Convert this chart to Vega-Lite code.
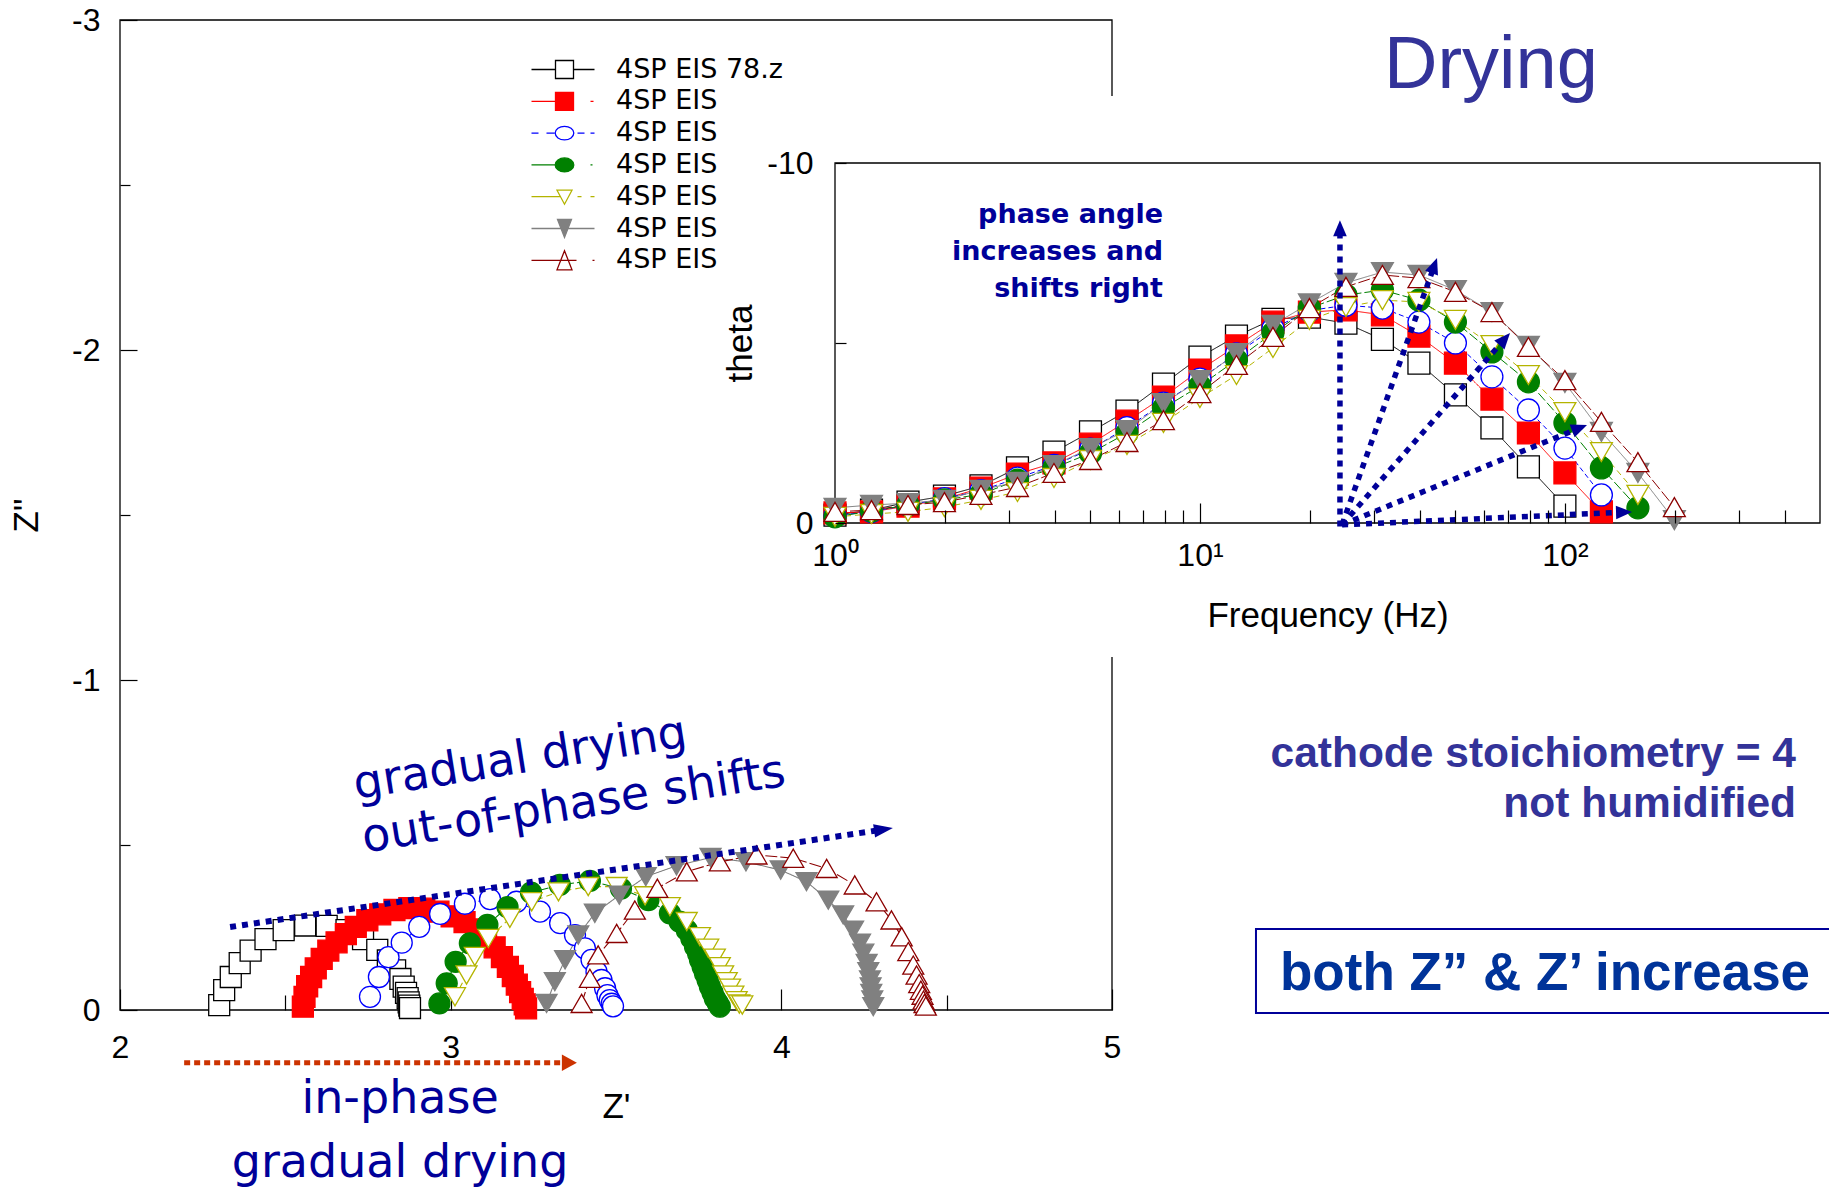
{
  "$schema": "https://vega.github.io/schema/vega-lite/v6.json",
  "width": 992,
  "height": 990,
  "autosize": {"type": "none"},
  "padding": {"left": 120, "top": 20, "right": 717, "bottom": 181},
  "background": "#ffffff",
  "config": {
    "view": {"stroke": null},
    "axis": {"grid": false, "domain": false, "labelFont": "Liberation Sans", "titleFont": "Liberation Sans", "labelColor": "#000000", "titleColor": "#000000", "tickColor": "#000000", "tickWidth": 1.2, "titleFontWeight": "normal", "labelOverlap": false, "labelFlush": false},
    "legend": {"disable": true},
    "text": {"font": "Liberation Sans"}
  },
  "datasets": {
    "nyquist": [
      {"run": "4SP EIS 78.z", "zre": 2.300, "zim": -0.015}, {"run": "4SP EIS 78.z", "zre": 2.315, "zim": -0.060}, {"run": "4SP EIS 78.z", "zre": 2.335, "zim": -0.100}, {"run": "4SP EIS 78.z", "zre": 2.362, "zim": -0.142}, {"run": "4SP EIS 78.z", "zre": 2.395, "zim": -0.180}, {"run": "4SP EIS 78.z", "zre": 2.440, "zim": -0.215}, {"run": "4SP EIS 78.z", "zre": 2.495, "zim": -0.242}, {"run": "4SP EIS 78.z", "zre": 2.560, "zim": -0.256}, {"run": "4SP EIS 78.z", "zre": 2.625, "zim": -0.255}, {"run": "4SP EIS 78.z", "zre": 2.685, "zim": -0.242}, {"run": "4SP EIS 78.z", "zre": 2.735, "zim": -0.215}, {"run": "4SP EIS 78.z", "zre": 2.778, "zim": -0.182}, {"run": "4SP EIS 78.z", "zre": 2.810, "zim": -0.150}, {"run": "4SP EIS 78.z", "zre": 2.832, "zim": -0.120}, {"run": "4SP EIS 78.z", "zre": 2.848, "zim": -0.094}, {"run": "4SP EIS 78.z", "zre": 2.858, "zim": -0.071}, {"run": "4SP EIS 78.z", "zre": 2.865, "zim": -0.052}, {"run": "4SP EIS 78.z", "zre": 2.870, "zim": -0.036}, {"run": "4SP EIS 78.z", "zre": 2.873, "zim": -0.023}, {"run": "4SP EIS 78.z", "zre": 2.875, "zim": -0.013}, {"run": "4SP EIS 78.z", "zre": 2.877, "zim": -0.006},
      {"run": "4SP EIS 79.z", "zre": 2.553, "zim": -0.010}, {"run": "4SP EIS 79.z", "zre": 2.558, "zim": -0.040}, {"run": "4SP EIS 79.z", "zre": 2.566, "zim": -0.072}, {"run": "4SP EIS 79.z", "zre": 2.578, "zim": -0.100}, {"run": "4SP EIS 79.z", "zre": 2.592, "zim": -0.126}, {"run": "4SP EIS 79.z", "zre": 2.610, "zim": -0.155}, {"run": "4SP EIS 79.z", "zre": 2.630, "zim": -0.180}, {"run": "4SP EIS 79.z", "zre": 2.655, "zim": -0.205}, {"run": "4SP EIS 79.z", "zre": 2.683, "zim": -0.230}, {"run": "4SP EIS 79.z", "zre": 2.713, "zim": -0.252}, {"run": "4SP EIS 79.z", "zre": 2.748, "zim": -0.272}, {"run": "4SP EIS 79.z", "zre": 2.787, "zim": -0.290}, {"run": "4SP EIS 79.z", "zre": 2.830, "zim": -0.303}, {"run": "4SP EIS 79.z", "zre": 2.875, "zim": -0.309}, {"run": "4SP EIS 79.z", "zre": 2.920, "zim": -0.307}, {"run": "4SP EIS 79.z", "zre": 2.963, "zim": -0.298}, {"run": "4SP EIS 79.z", "zre": 3.003, "zim": -0.284}, {"run": "4SP EIS 79.z", "zre": 3.042, "zim": -0.266}, {"run": "4SP EIS 79.z", "zre": 3.077, "zim": -0.244}, {"run": "4SP EIS 79.z", "zre": 3.107, "zim": -0.218}, {"run": "4SP EIS 79.z", "zre": 3.133, "zim": -0.190}, {"run": "4SP EIS 79.z", "zre": 3.155, "zim": -0.160}, {"run": "4SP EIS 79.z", "zre": 3.173, "zim": -0.131}, {"run": "4SP EIS 79.z", "zre": 3.188, "zim": -0.103}, {"run": "4SP EIS 79.z", "zre": 3.200, "zim": -0.077}, {"run": "4SP EIS 79.z", "zre": 3.210, "zim": -0.054}, {"run": "4SP EIS 79.z", "zre": 3.218, "zim": -0.034}, {"run": "4SP EIS 79.z", "zre": 3.224, "zim": -0.017}, {"run": "4SP EIS 79.z", "zre": 3.228, "zim": -0.005},
      {"run": "4SP EIS 80.z", "zre": 2.756, "zim": -0.040}, {"run": "4SP EIS 80.z", "zre": 2.783, "zim": -0.100}, {"run": "4SP EIS 80.z", "zre": 2.812, "zim": -0.160}, {"run": "4SP EIS 80.z", "zre": 2.852, "zim": -0.204}, {"run": "4SP EIS 80.z", "zre": 2.905, "zim": -0.252}, {"run": "4SP EIS 80.z", "zre": 2.968, "zim": -0.291}, {"run": "4SP EIS 80.z", "zre": 3.043, "zim": -0.322}, {"run": "4SP EIS 80.z", "zre": 3.119, "zim": -0.336}, {"run": "4SP EIS 80.z", "zre": 3.199, "zim": -0.328}, {"run": "4SP EIS 80.z", "zre": 3.270, "zim": -0.298}, {"run": "4SP EIS 80.z", "zre": 3.331, "zim": -0.263}, {"run": "4SP EIS 80.z", "zre": 3.376, "zim": -0.227}, {"run": "4SP EIS 80.z", "zre": 3.406, "zim": -0.187}, {"run": "4SP EIS 80.z", "zre": 3.426, "zim": -0.152}, {"run": "4SP EIS 80.z", "zre": 3.441, "zim": -0.116}, {"run": "4SP EIS 80.z", "zre": 3.456, "zim": -0.091}, {"run": "4SP EIS 80.z", "zre": 3.467, "zim": -0.066}, {"run": "4SP EIS 80.z", "zre": 3.474, "zim": -0.045}, {"run": "4SP EIS 80.z", "zre": 3.481, "zim": -0.030}, {"run": "4SP EIS 80.z", "zre": 3.487, "zim": -0.019}, {"run": "4SP EIS 80.z", "zre": 3.491, "zim": -0.011},
      {"run": "4SP EIS 81.z", "zre": 2.966, "zim": -0.020}, {"run": "4SP EIS 81.z", "zre": 2.988, "zim": -0.081}, {"run": "4SP EIS 81.z", "zre": 3.015, "zim": -0.146}, {"run": "4SP EIS 81.z", "zre": 3.058, "zim": -0.202}, {"run": "4SP EIS 81.z", "zre": 3.111, "zim": -0.258}, {"run": "4SP EIS 81.z", "zre": 3.172, "zim": -0.312}, {"run": "4SP EIS 81.z", "zre": 3.243, "zim": -0.356}, {"run": "4SP EIS 81.z", "zre": 3.330, "zim": -0.379}, {"run": "4SP EIS 81.z", "zre": 3.421, "zim": -0.391}, {"run": "4SP EIS 81.z", "zre": 3.515, "zim": -0.368}, {"run": "4SP EIS 81.z", "zre": 3.598, "zim": -0.333}, {"run": "4SP EIS 81.z", "zre": 3.663, "zim": -0.293}, {"run": "4SP EIS 81.z", "zre": 3.692, "zim": -0.268}, {"run": "4SP EIS 81.z", "zre": 3.714, "zim": -0.242}, {"run": "4SP EIS 81.z", "zre": 3.728, "zim": -0.217}, {"run": "4SP EIS 81.z", "zre": 3.739, "zim": -0.192}, {"run": "4SP EIS 81.z", "zre": 3.748, "zim": -0.172}, {"run": "4SP EIS 81.z", "zre": 3.754, "zim": -0.152}, {"run": "4SP EIS 81.z", "zre": 3.762, "zim": -0.131}, {"run": "4SP EIS 81.z", "zre": 3.769, "zim": -0.111}, {"run": "4SP EIS 81.z", "zre": 3.777, "zim": -0.091}, {"run": "4SP EIS 81.z", "zre": 3.784, "zim": -0.071}, {"run": "4SP EIS 81.z", "zre": 3.792, "zim": -0.053}, {"run": "4SP EIS 81.z", "zre": 3.799, "zim": -0.035}, {"run": "4SP EIS 81.z", "zre": 3.807, "zim": -0.022}, {"run": "4SP EIS 81.z", "zre": 3.814, "zim": -0.010},
      {"run": "4SP EIS 82.z", "zre": 3.013, "zim": -0.040}, {"run": "4SP EIS 82.z", "zre": 3.048, "zim": -0.106}, {"run": "4SP EIS 82.z", "zre": 3.073, "zim": -0.162}, {"run": "4SP EIS 82.z", "zre": 3.114, "zim": -0.217}, {"run": "4SP EIS 82.z", "zre": 3.179, "zim": -0.278}, {"run": "4SP EIS 82.z", "zre": 3.245, "zim": -0.328}, {"run": "4SP EIS 82.z", "zre": 3.326, "zim": -0.358}, {"run": "4SP EIS 82.z", "zre": 3.416, "zim": -0.374}, {"run": "4SP EIS 82.z", "zre": 3.502, "zim": -0.374}, {"run": "4SP EIS 82.z", "zre": 3.588, "zim": -0.346}, {"run": "4SP EIS 82.z", "zre": 3.663, "zim": -0.313}, {"run": "4SP EIS 82.z", "zre": 3.714, "zim": -0.268}, {"run": "4SP EIS 82.z", "zre": 3.754, "zim": -0.222}, {"run": "4SP EIS 82.z", "zre": 3.779, "zim": -0.187}, {"run": "4SP EIS 82.z", "zre": 3.799, "zim": -0.157}, {"run": "4SP EIS 82.z", "zre": 3.814, "zim": -0.131}, {"run": "4SP EIS 82.z", "zre": 3.824, "zim": -0.106}, {"run": "4SP EIS 82.z", "zre": 3.835, "zim": -0.086}, {"run": "4SP EIS 82.z", "zre": 3.845, "zim": -0.066}, {"run": "4SP EIS 82.z", "zre": 3.855, "zim": -0.045}, {"run": "4SP EIS 82.z", "zre": 3.865, "zim": -0.028}, {"run": "4SP EIS 82.z", "zre": 3.873, "zim": -0.018}, {"run": "4SP EIS 82.z", "zre": 3.882, "zim": -0.015},
      {"run": "4SP EIS 83.z", "zre": 3.290, "zim": -0.020}, {"run": "4SP EIS 83.z", "zre": 3.315, "zim": -0.086}, {"run": "4SP EIS 83.z", "zre": 3.346, "zim": -0.152}, {"run": "4SP EIS 83.z", "zre": 3.386, "zim": -0.227}, {"run": "4SP EIS 83.z", "zre": 3.436, "zim": -0.293}, {"run": "4SP EIS 83.z", "zre": 3.510, "zim": -0.348}, {"run": "4SP EIS 83.z", "zre": 3.590, "zim": -0.404}, {"run": "4SP EIS 83.z", "zre": 3.683, "zim": -0.437}, {"run": "4SP EIS 83.z", "zre": 3.786, "zim": -0.462}, {"run": "4SP EIS 83.z", "zre": 3.893, "zim": -0.449}, {"run": "4SP EIS 83.z", "zre": 3.998, "zim": -0.424}, {"run": "4SP EIS 83.z", "zre": 4.076, "zim": -0.389}, {"run": "4SP EIS 83.z", "zre": 4.142, "zim": -0.333}, {"run": "4SP EIS 83.z", "zre": 4.187, "zim": -0.288}, {"run": "4SP EIS 83.z", "zre": 4.217, "zim": -0.242}, {"run": "4SP EIS 83.z", "zre": 4.238, "zim": -0.202}, {"run": "4SP EIS 83.z", "zre": 4.248, "zim": -0.172}, {"run": "4SP EIS 83.z", "zre": 4.258, "zim": -0.141}, {"run": "4SP EIS 83.z", "zre": 4.263, "zim": -0.116}, {"run": "4SP EIS 83.z", "zre": 4.268, "zim": -0.091}, {"run": "4SP EIS 83.z", "zre": 4.270, "zim": -0.070}, {"run": "4SP EIS 83.z", "zre": 4.272, "zim": -0.050}, {"run": "4SP EIS 83.z", "zre": 4.275, "zim": -0.030}, {"run": "4SP EIS 83.z", "zre": 4.278, "zim": -0.010},
      {"run": "4SP EIS 84.z", "zre": 3.396, "zim": -0.020}, {"run": "4SP EIS 84.z", "zre": 3.421, "zim": -0.096}, {"run": "4SP EIS 84.z", "zre": 3.446, "zim": -0.167}, {"run": "4SP EIS 84.z", "zre": 3.502, "zim": -0.232}, {"run": "4SP EIS 84.z", "zre": 3.557, "zim": -0.303}, {"run": "4SP EIS 84.z", "zre": 3.625, "zim": -0.369}, {"run": "4SP EIS 84.z", "zre": 3.714, "zim": -0.419}, {"run": "4SP EIS 84.z", "zre": 3.814, "zim": -0.449}, {"run": "4SP EIS 84.z", "zre": 3.925, "zim": -0.470}, {"run": "4SP EIS 84.z", "zre": 4.036, "zim": -0.460}, {"run": "4SP EIS 84.z", "zre": 4.137, "zim": -0.429}, {"run": "4SP EIS 84.z", "zre": 4.222, "zim": -0.379}, {"run": "4SP EIS 84.z", "zre": 4.288, "zim": -0.328}, {"run": "4SP EIS 84.z", "zre": 4.333, "zim": -0.273}, {"run": "4SP EIS 84.z", "zre": 4.364, "zim": -0.222}, {"run": "4SP EIS 84.z", "zre": 4.384, "zim": -0.177}, {"run": "4SP EIS 84.z", "zre": 4.399, "zim": -0.136}, {"run": "4SP EIS 84.z", "zre": 4.409, "zim": -0.106}, {"run": "4SP EIS 84.z", "zre": 4.417, "zim": -0.080}, {"run": "4SP EIS 84.z", "zre": 4.422, "zim": -0.060}, {"run": "4SP EIS 84.z", "zre": 4.427, "zim": -0.045}, {"run": "4SP EIS 84.z", "zre": 4.430, "zim": -0.030}, {"run": "4SP EIS 84.z", "zre": 4.433, "zim": -0.020}, {"run": "4SP EIS 84.z", "zre": 4.437, "zim": -0.012}
    ],
    "bode": [
      {"run": "4SP EIS 78.z", "hz": 1, "theta": -0.22}, {"run": "4SP EIS 78.z", "hz": 1.259, "theta": -0.36}, {"run": "4SP EIS 78.z", "hz": 1.585, "theta": -0.58}, {"run": "4SP EIS 78.z", "hz": 1.995, "theta": -0.75}, {"run": "4SP EIS 78.z", "hz": 2.512, "theta": -1.03}, {"run": "4SP EIS 78.z", "hz": 3.162, "theta": -1.53}, {"run": "4SP EIS 78.z", "hz": 3.981, "theta": -1.97}, {"run": "4SP EIS 78.z", "hz": 5.012, "theta": -2.53}, {"run": "4SP EIS 78.z", "hz": 6.31, "theta": -3.11}, {"run": "4SP EIS 78.z", "hz": 7.943, "theta": -3.86}, {"run": "4SP EIS 78.z", "hz": 10, "theta": -4.61}, {"run": "4SP EIS 78.z", "hz": 12.59, "theta": -5.19}, {"run": "4SP EIS 78.z", "hz": 15.85, "theta": -5.66}, {"run": "4SP EIS 78.z", "hz": 19.95, "theta": -5.72}, {"run": "4SP EIS 78.z", "hz": 25.12, "theta": -5.55}, {"run": "4SP EIS 78.z", "hz": 31.62, "theta": -5.10}, {"run": "4SP EIS 78.z", "hz": 39.81, "theta": -4.44}, {"run": "4SP EIS 78.z", "hz": 50.12, "theta": -3.56}, {"run": "4SP EIS 78.z", "hz": 63.1, "theta": -2.64}, {"run": "4SP EIS 78.z", "hz": 79.43, "theta": -1.56}, {"run": "4SP EIS 78.z", "hz": 100, "theta": -0.47},
      {"run": "4SP EIS 79.z", "hz": 1, "theta": -0.28}, {"run": "4SP EIS 79.z", "hz": 1.259, "theta": -0.31}, {"run": "4SP EIS 79.z", "hz": 1.585, "theta": -0.47}, {"run": "4SP EIS 79.z", "hz": 1.995, "theta": -0.67}, {"run": "4SP EIS 79.z", "hz": 2.512, "theta": -0.97}, {"run": "4SP EIS 79.z", "hz": 3.162, "theta": -1.36}, {"run": "4SP EIS 79.z", "hz": 3.981, "theta": -1.67}, {"run": "4SP EIS 79.z", "hz": 5.012, "theta": -2.19}, {"run": "4SP EIS 79.z", "hz": 6.31, "theta": -2.83}, {"run": "4SP EIS 79.z", "hz": 7.943, "theta": -3.50}, {"run": "4SP EIS 79.z", "hz": 10, "theta": -4.25}, {"run": "4SP EIS 79.z", "hz": 12.59, "theta": -4.92}, {"run": "4SP EIS 79.z", "hz": 15.85, "theta": -5.58}, {"run": "4SP EIS 79.z", "hz": 19.95, "theta": -5.86}, {"run": "4SP EIS 79.z", "hz": 25.12, "theta": -5.92}, {"run": "4SP EIS 79.z", "hz": 31.62, "theta": -5.78}, {"run": "4SP EIS 79.z", "hz": 39.81, "theta": -5.19}, {"run": "4SP EIS 79.z", "hz": 50.12, "theta": -4.44}, {"run": "4SP EIS 79.z", "hz": 63.1, "theta": -3.44}, {"run": "4SP EIS 79.z", "hz": 79.43, "theta": -2.50}, {"run": "4SP EIS 79.z", "hz": 100, "theta": -1.39}, {"run": "4SP EIS 79.z", "hz": 125.9, "theta": -0.31},
      {"run": "4SP EIS 80.z", "hz": 1, "theta": -0.20}, {"run": "4SP EIS 80.z", "hz": 1.259, "theta": -0.32}, {"run": "4SP EIS 80.z", "hz": 1.585, "theta": -0.50}, {"run": "4SP EIS 80.z", "hz": 1.995, "theta": -0.68}, {"run": "4SP EIS 80.z", "hz": 2.512, "theta": -0.90}, {"run": "4SP EIS 80.z", "hz": 3.162, "theta": -1.25}, {"run": "4SP EIS 80.z", "hz": 3.981, "theta": -1.60}, {"run": "4SP EIS 80.z", "hz": 5.012, "theta": -2.05}, {"run": "4SP EIS 80.z", "hz": 6.31, "theta": -2.65}, {"run": "4SP EIS 80.z", "hz": 7.943, "theta": -3.33}, {"run": "4SP EIS 80.z", "hz": 10, "theta": -4.00}, {"run": "4SP EIS 80.z", "hz": 12.59, "theta": -4.70}, {"run": "4SP EIS 80.z", "hz": 15.85, "theta": -5.40}, {"run": "4SP EIS 80.z", "hz": 19.95, "theta": -5.90}, {"run": "4SP EIS 80.z", "hz": 25.12, "theta": -6.05}, {"run": "4SP EIS 80.z", "hz": 31.62, "theta": -5.97}, {"run": "4SP EIS 80.z", "hz": 39.81, "theta": -5.58}, {"run": "4SP EIS 80.z", "hz": 50.12, "theta": -5.00}, {"run": "4SP EIS 80.z", "hz": 63.1, "theta": -4.06}, {"run": "4SP EIS 80.z", "hz": 79.43, "theta": -3.14}, {"run": "4SP EIS 80.z", "hz": 100, "theta": -2.08}, {"run": "4SP EIS 80.z", "hz": 125.9, "theta": -0.78},
      {"run": "4SP EIS 81.z", "hz": 1, "theta": -0.17}, {"run": "4SP EIS 81.z", "hz": 1.259, "theta": -0.33}, {"run": "4SP EIS 81.z", "hz": 1.585, "theta": -0.50}, {"run": "4SP EIS 81.z", "hz": 1.995, "theta": -0.64}, {"run": "4SP EIS 81.z", "hz": 2.512, "theta": -0.80}, {"run": "4SP EIS 81.z", "hz": 3.162, "theta": -1.19}, {"run": "4SP EIS 81.z", "hz": 3.981, "theta": -1.53}, {"run": "4SP EIS 81.z", "hz": 5.012, "theta": -1.94}, {"run": "4SP EIS 81.z", "hz": 6.31, "theta": -2.50}, {"run": "4SP EIS 81.z", "hz": 7.943, "theta": -3.19}, {"run": "4SP EIS 81.z", "hz": 10, "theta": -3.81}, {"run": "4SP EIS 81.z", "hz": 12.59, "theta": -4.53}, {"run": "4SP EIS 81.z", "hz": 15.85, "theta": -5.28}, {"run": "4SP EIS 81.z", "hz": 19.95, "theta": -5.97}, {"run": "4SP EIS 81.z", "hz": 25.12, "theta": -6.33}, {"run": "4SP EIS 81.z", "hz": 31.62, "theta": -6.47}, {"run": "4SP EIS 81.z", "hz": 39.81, "theta": -6.19}, {"run": "4SP EIS 81.z", "hz": 50.12, "theta": -5.58}, {"run": "4SP EIS 81.z", "hz": 63.1, "theta": -4.75}, {"run": "4SP EIS 81.z", "hz": 79.43, "theta": -3.92}, {"run": "4SP EIS 81.z", "hz": 100, "theta": -2.78}, {"run": "4SP EIS 81.z", "hz": 125.9, "theta": -1.53}, {"run": "4SP EIS 81.z", "hz": 158.5, "theta": -0.42},
      {"run": "4SP EIS 82.z", "hz": 1, "theta": -0.17}, {"run": "4SP EIS 82.z", "hz": 1.259, "theta": -0.25}, {"run": "4SP EIS 82.z", "hz": 1.585, "theta": -0.31}, {"run": "4SP EIS 82.z", "hz": 1.995, "theta": -0.44}, {"run": "4SP EIS 82.z", "hz": 2.512, "theta": -0.64}, {"run": "4SP EIS 82.z", "hz": 3.162, "theta": -0.86}, {"run": "4SP EIS 82.z", "hz": 3.981, "theta": -1.25}, {"run": "4SP EIS 82.z", "hz": 5.012, "theta": -1.75}, {"run": "4SP EIS 82.z", "hz": 6.31, "theta": -2.17}, {"run": "4SP EIS 82.z", "hz": 7.943, "theta": -2.78}, {"run": "4SP EIS 82.z", "hz": 10, "theta": -3.47}, {"run": "4SP EIS 82.z", "hz": 12.59, "theta": -4.11}, {"run": "4SP EIS 82.z", "hz": 15.85, "theta": -4.86}, {"run": "4SP EIS 82.z", "hz": 19.95, "theta": -5.64}, {"run": "4SP EIS 82.z", "hz": 25.12, "theta": -6.00}, {"run": "4SP EIS 82.z", "hz": 31.62, "theta": -6.19}, {"run": "4SP EIS 82.z", "hz": 39.81, "theta": -6.14}, {"run": "4SP EIS 82.z", "hz": 50.12, "theta": -5.64}, {"run": "4SP EIS 82.z", "hz": 63.1, "theta": -4.94}, {"run": "4SP EIS 82.z", "hz": 79.43, "theta": -4.11}, {"run": "4SP EIS 82.z", "hz": 100, "theta": -3.08}, {"run": "4SP EIS 82.z", "hz": 125.9, "theta": -1.97}, {"run": "4SP EIS 82.z", "hz": 158.5, "theta": -0.78},
      {"run": "4SP EIS 83.z", "hz": 1, "theta": -0.42}, {"run": "4SP EIS 83.z", "hz": 1.259, "theta": -0.50}, {"run": "4SP EIS 83.z", "hz": 1.585, "theta": -0.55}, {"run": "4SP EIS 83.z", "hz": 1.995, "theta": -0.64}, {"run": "4SP EIS 83.z", "hz": 2.512, "theta": -0.92}, {"run": "4SP EIS 83.z", "hz": 3.162, "theta": -1.14}, {"run": "4SP EIS 83.z", "hz": 3.981, "theta": -1.61}, {"run": "4SP EIS 83.z", "hz": 5.012, "theta": -2.08}, {"run": "4SP EIS 83.z", "hz": 6.31, "theta": -2.58}, {"run": "4SP EIS 83.z", "hz": 7.943, "theta": -3.33}, {"run": "4SP EIS 83.z", "hz": 10, "theta": -3.97}, {"run": "4SP EIS 83.z", "hz": 12.59, "theta": -4.72}, {"run": "4SP EIS 83.z", "hz": 15.85, "theta": -5.50}, {"run": "4SP EIS 83.z", "hz": 19.95, "theta": -6.10}, {"run": "4SP EIS 83.z", "hz": 25.12, "theta": -6.67}, {"run": "4SP EIS 83.z", "hz": 31.62, "theta": -6.97}, {"run": "4SP EIS 83.z", "hz": 39.81, "theta": -6.89}, {"run": "4SP EIS 83.z", "hz": 50.12, "theta": -6.47}, {"run": "4SP EIS 83.z", "hz": 63.1, "theta": -5.86}, {"run": "4SP EIS 83.z", "hz": 79.43, "theta": -4.92}, {"run": "4SP EIS 83.z", "hz": 100, "theta": -3.89}, {"run": "4SP EIS 83.z", "hz": 125.9, "theta": -2.53}, {"run": "4SP EIS 83.z", "hz": 158.5, "theta": -1.39}, {"run": "4SP EIS 83.z", "hz": 199.5, "theta": -0.08},
      {"run": "4SP EIS 84.z", "hz": 1, "theta": -0.31}, {"run": "4SP EIS 84.z", "hz": 1.259, "theta": -0.36}, {"run": "4SP EIS 84.z", "hz": 1.585, "theta": -0.50}, {"run": "4SP EIS 84.z", "hz": 1.995, "theta": -0.58}, {"run": "4SP EIS 84.z", "hz": 2.512, "theta": -0.78}, {"run": "4SP EIS 84.z", "hz": 3.162, "theta": -1.00}, {"run": "4SP EIS 84.z", "hz": 3.981, "theta": -1.39}, {"run": "4SP EIS 84.z", "hz": 5.012, "theta": -1.75}, {"run": "4SP EIS 84.z", "hz": 6.31, "theta": -2.25}, {"run": "4SP EIS 84.z", "hz": 7.943, "theta": -2.86}, {"run": "4SP EIS 84.z", "hz": 10, "theta": -3.61}, {"run": "4SP EIS 84.z", "hz": 12.59, "theta": -4.39}, {"run": "4SP EIS 84.z", "hz": 15.85, "theta": -5.17}, {"run": "4SP EIS 84.z", "hz": 19.95, "theta": -5.97}, {"run": "4SP EIS 84.z", "hz": 25.12, "theta": -6.56}, {"run": "4SP EIS 84.z", "hz": 31.62, "theta": -6.89}, {"run": "4SP EIS 84.z", "hz": 39.81, "theta": -6.80}, {"run": "4SP EIS 84.z", "hz": 50.12, "theta": -6.42}, {"run": "4SP EIS 84.z", "hz": 63.1, "theta": -5.86}, {"run": "4SP EIS 84.z", "hz": 79.43, "theta": -4.89}, {"run": "4SP EIS 84.z", "hz": 100, "theta": -3.97}, {"run": "4SP EIS 84.z", "hz": 125.9, "theta": -2.81}, {"run": "4SP EIS 84.z", "hz": 158.5, "theta": -1.69}, {"run": "4SP EIS 84.z", "hz": 199.5, "theta": -0.44}
    ],
    "phase_arrows": [
      {"from_hz": 24.19, "from_theta": 0.1, "to_hz": 24.19, "to_theta": -8.19},
      {"from_hz": 24.51, "from_theta": 0.05, "to_hz": 43.87, "to_theta": -7.15},
      {"from_hz": 24.51, "from_theta": 0.05, "to_hz": 68.4, "to_theta": -5.11},
      {"from_hz": 24.51, "from_theta": 0.05, "to_hz": 109.7, "to_theta": -2.64},
      {"from_hz": 24.51, "from_theta": 0.05, "to_hz": 145.2, "to_theta": -0.30}
    ]
  },
  "layer": [
    {
      "resolve": {"scale": {"shape": "independent", "fill": "independent", "stroke": "independent", "strokeDash": "independent"}},
      "layer": [
        {
          "data": {"values": [{}]},
          "mark": {"type": "rect", "filled": false, "stroke": "#000000", "strokeWidth": 1.3},
          "encoding": {
            "x": {"datum": 2, "type": "quantitative", "scale": {"domain": [2, 5], "nice": false, "zero": false}},
            "x2": {"datum": 5},
            "y": {"datum": -3, "type": "quantitative", "scale": {"domain": [-3, 0], "reverse": true, "nice": false, "zero": false}},
            "y2": {"datum": 0}
          }
        },
        {
          "data": {"name": "nyquist"},
          "mark": {"type": "line", "strokeWidth": 1.1},
          "encoding": {
            "x": {"field": "zre", "type": "quantitative", "scale": {"domain": [2, 5], "nice": false, "zero": false},
              "axis": {"orient": "bottom", "values": [2, 2.5, 3, 3.5, 4, 4.5, 5], "labelExpr": "datum.value % 1 === 0 ? '' + datum.value : ''",
                "tickSize": {"condition": {"test": "datum.value % 1 === 0", "value": -21}, "value": -15},
                "labelPadding": 43, "labelFontSize": 32, "title": "Z'", "titleFontSize": 35, "titlePadding": 20}},
            "y": {"field": "zim", "type": "quantitative", "scale": {"domain": [-3, 0], "reverse": true, "nice": false, "zero": false},
              "axis": {"orient": "left", "values": [-3, -2.5, -2, -1.5, -1, -0.5, 0], "labelExpr": "datum.value % 1 === 0 ? '' + datum.value : ''",
                "tickSize": {"condition": {"test": "datum.value % 1 === 0", "value": -17}, "value": -10},
                "labelPadding": 37, "labelFontSize": 32, "title": "Z\"", "titleFontSize": 35, "titleX": -94, "titleBaseline": "middle"}},
            "stroke": {"field": "run", "type": "nominal",
              "scale": {"domain": ["4SP EIS 78.z", "4SP EIS 79.z", "4SP EIS 80.z", "4SP EIS 81.z", "4SP EIS 82.z", "4SP EIS 83.z", "4SP EIS 84.z"], "range": ["#000000", "#ff0000", "#0000ff", "#008000", "#b4b400", "#808080", "#8b0000"]}},
            "strokeDash": {"field": "run", "type": "nominal",
              "scale": {"domain": ["4SP EIS 78.z", "4SP EIS 79.z", "4SP EIS 80.z", "4SP EIS 81.z", "4SP EIS 82.z", "4SP EIS 83.z", "4SP EIS 84.z"], "range": [[1, 0], [1, 0], [5, 3], [10, 3], [6, 4], [1, 0], [12, 3]]}}
          }
        },
        {
          "data": {"name": "nyquist"},
          "mark": {"type": "point", "size": 440, "strokeWidth": 1.3, "opacity": 1},
          "encoding": {
            "x": {"field": "zre", "type": "quantitative"},
            "y": {"field": "zim", "type": "quantitative"},
            "stroke": {"field": "run", "type": "nominal",
              "scale": {"domain": ["4SP EIS 78.z", "4SP EIS 79.z", "4SP EIS 80.z", "4SP EIS 81.z", "4SP EIS 82.z", "4SP EIS 83.z", "4SP EIS 84.z"], "range": ["#000000", "#ff0000", "#0000ff", "#008000", "#b4b400", "#808080", "#8b0000"]}},
            "fill": {"field": "run", "type": "nominal",
              "scale": {"domain": ["4SP EIS 78.z", "4SP EIS 79.z", "4SP EIS 80.z", "4SP EIS 81.z", "4SP EIS 82.z", "4SP EIS 83.z", "4SP EIS 84.z"], "range": ["#ffffff", "#ff0000", "#ffffff", "#008000", "#ffffff", "#808080", "#ffffff"]}},
            "shape": {"field": "run", "type": "nominal",
              "scale": {"domain": ["4SP EIS 78.z", "4SP EIS 79.z", "4SP EIS 80.z", "4SP EIS 81.z", "4SP EIS 82.z", "4SP EIS 83.z", "4SP EIS 84.z"], "range": ["square", "square", "circle", "circle", "triangle-down", "triangle-down", "triangle-up"]}}
          }
        },
        {
          "data": {"name": "nyquist"},
          "mark": {"type": "point", "size": 400, "strokeWidth": 1.3, "opacity": 0},
          "encoding": {
            "x": {"field": "zre", "type": "quantitative"},
            "y": {"field": "zim", "type": "quantitative"},
            "shape": {"field": "run", "type": "nominal",
              "scale": {"domain": ["4SP EIS 78.z", "4SP EIS 79.z", "4SP EIS 80.z", "4SP EIS 81.z", "4SP EIS 82.z", "4SP EIS 83.z", "4SP EIS 84.z"],
                "range": ["M-3.3,0H-0.9M0.9,0H3M-0.9,-0.9H0.9V0.9H-0.9Z", "M-3.3,0H-0.9M2.6,0H2.9M-0.9,-0.9H0.9V0.9H-0.9Z", "M-3.3,0H-2.6M-1.8,0H-1M1.3,0H2M2.6,0H3M-0.93,0A0.93,0.68 0 1,0 0.93,0A0.93,0.68 0 1,0 -0.93,0Z", "M-3.3,0H-0.93M2.6,0H2.8M-0.93,0A0.93,0.7 0 1,0 0.93,0A0.93,0.7 0 1,0 -0.93,0Z", "M-3.3,0H-0.42M1.3,0H1.7M2.6,0H3M-0.75,-0.65H0.75L0,0.75Z", "M-3.3,0H3M-0.7,-0.9H0.7L0,0.9Z", "M-3.3,0H1.2M2.8,0H3M0,-0.95L0.75,0.95H-0.75Z"]},
              "legend": {
                "orient": "none", "legendX": 431, "legendY": 36, "title": null, "padding": 0, "rowPadding": 3.8,
                "symbolSize": 400, "symbolStrokeWidth": 1.3, "symbolOpacity": 1, "labelOffset": 38,
                "labelFont": "DejaVu Sans", "labelFontSize": 27, "labelColor": "#000000", "labelLimit": 400,
                "labelExpr": "datum.value === '4SP EIS 78.z' ? datum.label : '4SP EIS'"
              }},
            "stroke": {"field": "run", "type": "nominal",
              "scale": {"domain": ["4SP EIS 78.z", "4SP EIS 79.z", "4SP EIS 80.z", "4SP EIS 81.z", "4SP EIS 82.z", "4SP EIS 83.z", "4SP EIS 84.z"], "range": ["#000000", "#ff0000", "#0000ff", "#008000", "#b4b400", "#808080", "#8b0000"]}},
            "fill": {"field": "run", "type": "nominal",
              "scale": {"domain": ["4SP EIS 78.z", "4SP EIS 79.z", "4SP EIS 80.z", "4SP EIS 81.z", "4SP EIS 82.z", "4SP EIS 83.z", "4SP EIS 84.z"], "range": ["#ffffff", "#ff0000", "#ffffff", "#008000", "#ffffff", "#808080", "#ffffff"]}}
          }
        },
        {
          "data": {"values": [{}]},
          "mark": {"type": "rule", "stroke": "#cc3300", "strokeWidth": 5, "strokeDash": [6, 4]},
          "encoding": {
            "x": {"datum": 2.194, "type": "quantitative"}, "x2": {"datum": 3.359},
            "y": {"datum": 0.16, "type": "quantitative"}, "y2": {"datum": 0.16}
          }
        },
        {
          "data": {"values": [{}]},
          "mark": {"type": "point", "shape": "M0,-1L1.1,1L-1.1,1Z", "size": 225, "angle": 90, "filled": true, "fill": "#cc3300", "strokeWidth": 0, "opacity": 1},
          "encoding": {"x": {"datum": 3.359, "type": "quantitative"}, "y": {"datum": 0.16, "type": "quantitative"}}
        },
        {
          "data": {"values": [{}]},
          "mark": {"type": "rule", "stroke": "#000099", "strokeWidth": 6, "strokeDash": [6, 6]},
          "encoding": {
            "x": {"datum": 2.333, "type": "quantitative"}, "x2": {"datum": 4.309},
            "y": {"datum": -0.2515, "type": "quantitative"}, "y2": {"datum": -0.547}
          }
        },
        {
          "data": {"values": [{}]},
          "mark": {"type": "point", "shape": "M0,-1L0.7,1L-0.7,1Z", "size": 361, "angle": 81.5, "filled": true, "fill": "#000099", "strokeWidth": 0, "opacity": 1},
          "encoding": {"x": {"datum": 4.309, "type": "quantitative"}, "y": {"datum": -0.547, "type": "quantitative"}}
        },
        {
          "data": {"values": [{}]},
          "mark": {"type": "text", "text": ["gradual drying", "out-of-phase shifts"], "font": "DejaVu Sans", "fontSize": 46, "lineHeight": 54, "align": "left", "baseline": "alphabetic", "angle": 351, "fill": "#000099"},
          "encoding": {"x": {"datum": 2.714, "type": "quantitative"}, "y": {"datum": -0.639, "type": "quantitative"}}
        },
        {
          "data": {"values": [{}]},
          "mark": {"type": "text", "text": ["in-phase", "gradual drying"], "font": "DejaVu Sans", "fontSize": 46, "lineHeight": 64, "align": "center", "baseline": "alphabetic", "fill": "#000099"},
          "encoding": {"x": {"datum": 2.847, "type": "quantitative"}, "y": {"datum": 0.312, "type": "quantitative"}}
        }
      ]
    },
    {
      "layer": [
        {
          "data": {"values": [{}]},
          "mark": {"type": "rect", "fill": "#ffffff", "strokeWidth": 0},
          "encoding": {
            "x": {"datum": 0.4631, "type": "quantitative", "scale": {"type": "log", "domain": [1, 500], "range": [715, 1700], "nice": false}},
            "x2": {"datum": 700},
            "y": {"datum": -11.86, "type": "quantitative", "scale": {"domain": [-10, 0], "range": [143, 503], "nice": false, "zero": false}},
            "y2": {"datum": 3.72}
          }
        },
        {
          "data": {"values": [{}]},
          "mark": {"type": "rect", "filled": false, "stroke": "#000000", "strokeWidth": 1.3},
          "encoding": {
            "x": {"datum": 1, "type": "quantitative"},
            "x2": {"datum": 500},
            "y": {"datum": -10, "type": "quantitative"},
            "y2": {"datum": 0}
          }
        },
        {
          "data": {"name": "bode"},
          "mark": {"type": "line", "strokeWidth": 1},
          "encoding": {
            "x": {"field": "hz", "type": "quantitative", "scale": {"type": "log", "domain": [1, 500], "range": [715, 1700], "nice": false},
              "axis": {"orient": "bottom", "offset": -487, "zindex": 1,
                "values": [1, 2, 3, 4, 5, 6, 7, 8, 9, 10, 20, 30, 40, 50, 60, 70, 80, 90, 100, 200, 300, 400],
                "labelExpr": "datum.value === 1 ? '10⁰' : datum.value === 10 ? '10¹' : datum.value === 100 ? '10²' : ''",
                "tickSize": {"condition": {"test": "datum.value === 1 || datum.value === 10 || datum.value === 100", "value": -20}, "value": -13},
                "tickOpacity": {"condition": {"test": "datum.value === 1", "value": 0}, "value": 1},
                "labelPadding": 37, "labelFontSize": 32, "title": "Frequency (Hz)", "titleFontSize": 35, "titleY": 92, "titleBaseline": "middle"}},
            "y": {"field": "theta", "type": "quantitative", "scale": {"domain": [-10, 0], "range": [143, 503], "nice": false, "zero": false},
              "axis": {"orient": "left", "offset": -715, "zindex": 1, "values": [-10, -5, 0],
                "labelExpr": "datum.value === -5 ? '' : '' + datum.value",
                "tickSize": -11,
                "labelPadding": 33, "labelFontSize": 32, "title": "theta", "titleFontSize": 35, "titlePadding": 8}},
            "stroke": {"field": "run", "type": "nominal",
              "scale": {"domain": ["4SP EIS 78.z", "4SP EIS 79.z", "4SP EIS 80.z", "4SP EIS 81.z", "4SP EIS 82.z", "4SP EIS 83.z", "4SP EIS 84.z"], "range": ["#000000", "#ff0000", "#0000ff", "#008000", "#b4b400", "#808080", "#8b0000"]}},
            "strokeDash": {"field": "run", "type": "nominal",
              "scale": {"domain": ["4SP EIS 78.z", "4SP EIS 79.z", "4SP EIS 80.z", "4SP EIS 81.z", "4SP EIS 82.z", "4SP EIS 83.z", "4SP EIS 84.z"], "range": [[1, 0], [1, 0], [5, 3], [10, 3], [6, 4], [1, 0], [12, 3]]}}
          }
        },
        {
          "data": {"name": "bode"},
          "mark": {"type": "point", "size": 480, "strokeWidth": 1.3, "opacity": 1},
          "encoding": {
            "x": {"field": "hz", "type": "quantitative"},
            "y": {"field": "theta", "type": "quantitative"},
            "stroke": {"field": "run", "type": "nominal"},
            "fill": {"field": "run", "type": "nominal",
              "scale": {"domain": ["4SP EIS 78.z", "4SP EIS 79.z", "4SP EIS 80.z", "4SP EIS 81.z", "4SP EIS 82.z", "4SP EIS 83.z", "4SP EIS 84.z"], "range": ["#ffffff", "#ff0000", "#ffffff", "#008000", "#ffffff", "#808080", "#ffffff"]}},
            "shape": {"field": "run", "type": "nominal",
              "scale": {"domain": ["4SP EIS 78.z", "4SP EIS 79.z", "4SP EIS 80.z", "4SP EIS 81.z", "4SP EIS 82.z", "4SP EIS 83.z", "4SP EIS 84.z"], "range": ["square", "square", "circle", "circle", "triangle-down", "triangle-down", "triangle-up"]}}
          }
        },
        {
          "data": {"name": "phase_arrows"},
          "mark": {"type": "rule", "stroke": "#000099", "strokeWidth": 5.5, "strokeDash": [6, 6]},
          "encoding": {
            "x": {"field": "from_hz", "type": "quantitative"}, "x2": {"field": "to_hz"},
            "y": {"field": "from_theta", "type": "quantitative"}, "y2": {"field": "to_theta"}
          }
        },
        {
          "data": {"values": [{}]},
          "mark": {"type": "point", "shape": "M0,-1L0.85,1L-0.85,1Z", "size": 256, "angle": 0, "filled": true, "fill": "#000099", "strokeWidth": 0, "opacity": 1},
          "encoding": {"x": {"datum": 24.19, "type": "quantitative"}, "y": {"datum": -8.19, "type": "quantitative"}}
        },
        {
          "data": {"values": [{}]},
          "mark": {"type": "point", "shape": "M0,-1L0.85,1L-0.85,1Z", "size": 256, "angle": 19.9, "filled": true, "fill": "#000099", "strokeWidth": 0, "opacity": 1},
          "encoding": {"x": {"datum": 43.87, "type": "quantitative"}, "y": {"datum": -7.15, "type": "quantitative"}}
        },
        {
          "data": {"values": [{}]},
          "mark": {"type": "point", "shape": "M0,-1L0.85,1L-0.85,1Z", "size": 256, "angle": 41.8, "filled": true, "fill": "#000099", "strokeWidth": 0, "opacity": 1},
          "encoding": {"x": {"datum": 68.4, "type": "quantitative"}, "y": {"datum": -5.11, "type": "quantitative"}}
        },
        {
          "data": {"values": [{}]},
          "mark": {"type": "point", "shape": "M0,-1L0.85,1L-0.85,1Z", "size": 256, "angle": 68.6, "filled": true, "fill": "#000099", "strokeWidth": 0, "opacity": 1},
          "encoding": {"x": {"datum": 109.7, "type": "quantitative"}, "y": {"datum": -2.64, "type": "quantitative"}}
        },
        {
          "data": {"values": [{}]},
          "mark": {"type": "point", "shape": "M0,-1L0.85,1L-0.85,1Z", "size": 256, "angle": 88.2, "filled": true, "fill": "#000099", "strokeWidth": 0, "opacity": 1},
          "encoding": {"x": {"datum": 145.2, "type": "quantitative"}, "y": {"datum": -0.30, "type": "quantitative"}}
        },
        {
          "data": {"values": [{}]},
          "mark": {"type": "text", "text": ["phase angle", "increases and", "shifts right"], "font": "DejaVu Sans", "fontWeight": "bold", "fontSize": 27, "lineHeight": 37, "align": "right", "baseline": "alphabetic", "fill": "#000099"},
          "encoding": {"x": {"datum": 7.92, "type": "quantitative"}, "y": {"datum": -8.34, "type": "quantitative"}}
        },
        {
          "data": {"values": [{}]},
          "mark": {"type": "text", "text": "Drying", "fontSize": 74, "align": "center", "baseline": "alphabetic", "fill": "#333399"},
          "encoding": {"x": {"datum": 62.7, "type": "quantitative"}, "y": {"datum": -12.07, "type": "quantitative"}}
        },
        {
          "data": {"values": [{}]},
          "mark": {"type": "text", "text": ["cathode stoichiometry = 4", "not humidified"], "fontWeight": "bold", "fontSize": 42.5, "lineHeight": 50.6, "align": "right", "baseline": "alphabetic", "fill": "#333399"},
          "encoding": {"x": {"datum": 429.8, "type": "quantitative"}, "y": {"datum": 6.77, "type": "quantitative"}}
        },
        {
          "data": {"values": [{}]},
          "mark": {"type": "rect", "filled": false, "stroke": "#000099", "strokeWidth": 2},
          "encoding": {
            "x": {"datum": 14.24, "type": "quantitative"}, "x2": {"datum": 700},
            "y": {"datum": 11.28, "type": "quantitative"}, "y2": {"datum": 13.61}
          }
        },
        {
          "data": {"values": [{}]},
          "mark": {"type": "text", "text": "both Z\u201d & Z\u2019 increase", "fontWeight": "bold", "fontSize": 53, "align": "left", "baseline": "alphabetic", "fill": "#003399"},
          "encoding": {"x": {"datum": 16.57, "type": "quantitative"}, "y": {"datum": 12.97, "type": "quantitative"}}
        }
      ]
    }
  ],
  "resolve": {"scale": {"x": "independent", "y": "independent", "shape": "independent", "fill": "independent", "stroke": "independent", "strokeDash": "independent"}, "axis": {"x": "independent", "y": "independent"}}
}
